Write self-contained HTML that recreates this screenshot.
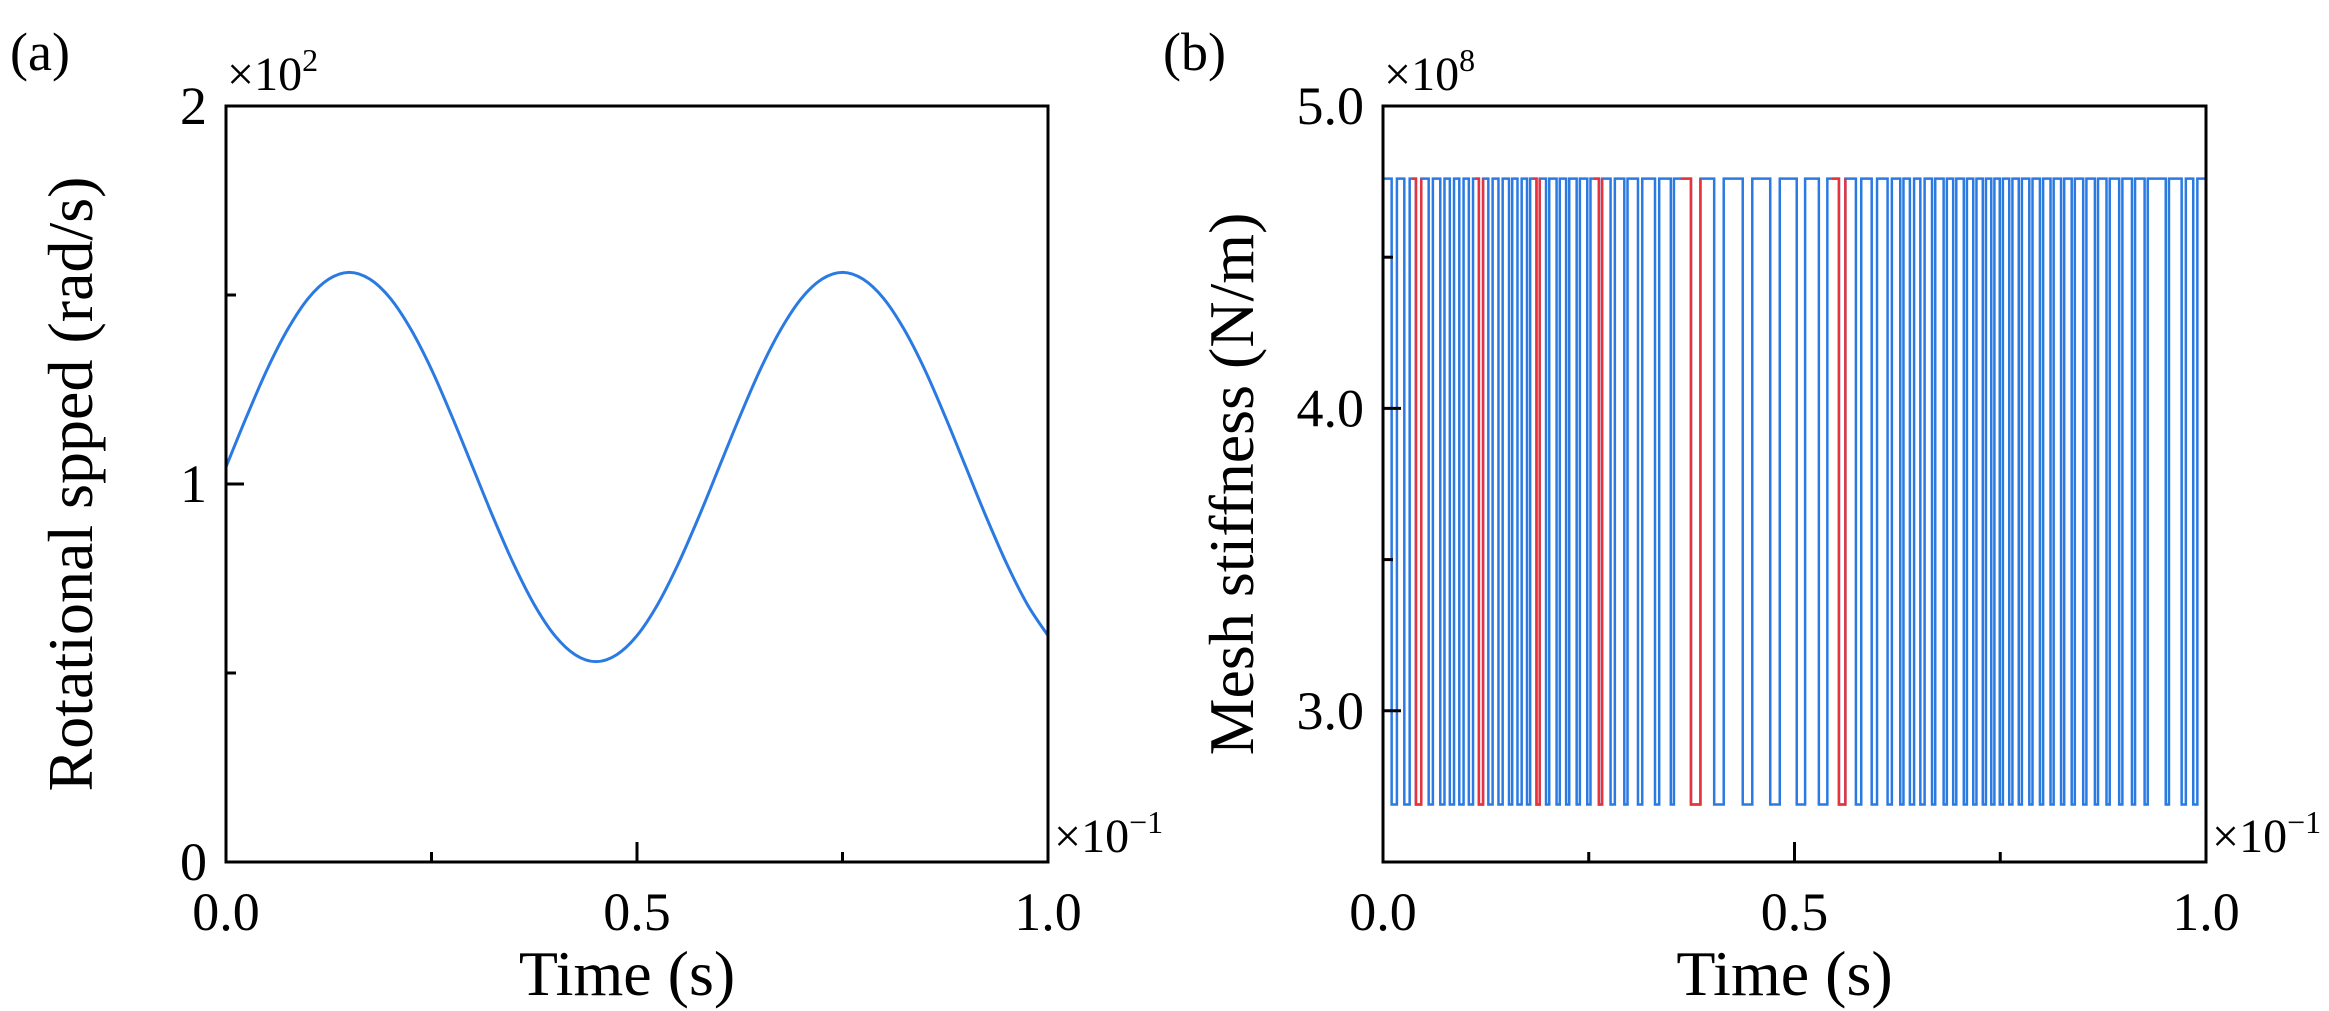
<!DOCTYPE html>
<html><head><meta charset="utf-8">
<style>
html,body{margin:0;padding:0;background:#fff;}
svg{display:block;font-family:"Liberation Serif","DejaVu Serif",serif;}
</style></head>
<body>
<svg id="fig" width="2329" height="1011" viewBox="0 0 2329 1011" xmlns="http://www.w3.org/2000/svg">
  <g id="panelA"></g>
  <g id="panelB"></g>
</svg>
<script>
// ---------- Panel (a) data: rotational speed (x10^2 rad/s) vs time (x10^-1 s)
const speedTimes = [0,0.025,0.05,0.075,0.1,0.125,0.15,0.175,0.2,0.225,0.25,0.275,0.3,0.325,0.35,0.375,0.4,0.425,0.45,0.475,0.5,0.525,0.55,0.575,0.6,0.625,0.65,0.675,0.7,0.725,0.75,0.775,0.8,0.825,0.85,0.875,0.9,0.925,0.95,0.975,1.0];
const speedValues = [1.045,1.178,1.303,1.409,1.491,1.542,1.560,1.542,1.491,1.409,1.303,1.178,1.045,0.912,0.788,0.681,0.599,0.548,0.530,0.548,0.599,0.681,0.788,0.912,1.045,1.178,1.303,1.409,1.491,1.542,1.560,1.542,1.491,1.409,1.303,1.178,1.045,0.912,0.788,0.681,0.599];
const aXTicks = [0,0.5,1.0];
const aXTickLabels = ["0.0","0.5","1.0"];
const aXMinor = [0.25,0.75];
const aYTicks = [0,1,2];
const aYTickLabels = ["0","1","2"];
const aYMinor = [0.5,1.5];

// ---------- Panel (b) data: mesh stiffness square wave (x10^8 N/m)
const stiffHigh = 4.76;
const stiffLow = 2.69;
const dipStart = [0.0105,0.0259,0.0400,0.0555,0.0696,0.0812,0.0927,0.1043,0.1165,0.1280,0.1403,0.1531,0.1634,0.1750,0.1865,0.1981,0.2109,0.2225,0.2353,0.2482,0.2623,0.2765,0.2932,0.3098,0.3305,0.3497,0.3742,0.4024,0.4371,0.4705,0.5027,0.5296,0.5540,0.5746,0.5938,0.6131,0.6285,0.6402,0.6529,0.6671,0.6812,0.6928,0.7057,0.7172,0.7288,0.7391,0.7494,0.7609,0.7725,0.7853,0.7982,0.8111,0.8239,0.8368,0.8508,0.8650,0.8791,0.8945,0.9100,0.9254,0.9511,0.9704,0.9845];
const dipEnd   = [0.0169,0.0324,0.0465,0.0606,0.0747,0.0863,0.0979,0.1094,0.1216,0.1332,0.1454,0.1570,0.1685,0.1788,0.1904,0.2020,0.2148,0.2263,0.2392,0.2521,0.2662,0.2817,0.2971,0.3150,0.3356,0.3535,0.3857,0.4140,0.4487,0.4821,0.5129,0.5399,0.5618,0.5811,0.6003,0.6183,0.6324,0.6453,0.6581,0.6710,0.6851,0.6966,0.7095,0.7211,0.7326,0.7429,0.7532,0.7648,0.7763,0.7892,0.8021,0.8149,0.8277,0.8406,0.8547,0.8688,0.8830,0.8984,0.9138,0.9292,0.9550,0.9755,0.9895];
const dipRed   = [0,0,1,0,0,0,0,0,1,0,0,0,0,0,1,0,0,0,0,0,1,0,0,0,0,0,1,0,0,0,0,0,1,0,0,0,0,0,0,0,0,0,0,0,0,0,0,0,0,0,0,0,0,0,0,0,0,0,0,0,0,0,0];
const bXTicks = [0,0.5,1.0];
const bXTickLabels = ["0.0","0.5","1.0"];
const bXMinor = [0.25,0.75];
const bYTicks = [3.0,4.0,5.0];
const bYTickLabels = ["3.0","4.0","5.0"];
const bYMinor = [3.5,4.5];

const NS = "http://www.w3.org/2000/svg";
function mk(tag, attrs, parent, text){
  const e = document.createElementNS(NS, tag);
  for (const k in attrs) e.setAttribute(k, attrs[k]);
  if (text !== undefined) e.textContent = text;
  parent.appendChild(e);
  return e;
}
const BLUE = "#2a7ae2", RED = "#e8333d";

function axesFrame(g, L, R, T, B, xs, ys, xT, xTL, xMi, yT, yTL, yMi, yLabel, yExp, panelLabel, plx){
  const fr = mk("rect", {x:L, y:T, width:R-L, height:B-T, fill:"none", stroke:"#000", "stroke-width":3}, g);
  
  
  xT.forEach((v,i)=>{
    const t = mk("line", {x1:xs(v), x2:xs(v), y1:B, y2:B-20, stroke:"#000", "stroke-width":3}, g);
    
    
    const lb = mk("text", {x:xs(v), y:B+68, "font-size":54, "text-anchor":"middle"}, g, xTL[i]);
    
    
  });
  xMi.forEach(v=>{
    const t = mk("line", {x1:xs(v), x2:xs(v), y1:B, y2:B-10, stroke:"#000", "stroke-width":3}, g);
    
    
  });
  yT.forEach((v,i)=>{
    const t = mk("line", {x1:L, x2:L+18, y1:ys(v), y2:ys(v), stroke:"#000", "stroke-width":3}, g);
    
    
    const lb = mk("text", {x:L-19, y:ys(v)+18, "font-size":54, "text-anchor":"end"}, g, yTL[i]);
    
    
  });
  yMi.forEach(v=>{
    const t = mk("line", {x1:L, x2:L+10, y1:ys(v), y2:ys(v), stroke:"#000", "stroke-width":3}, g);
    
    
  });
  const xt = mk("text", {x:(L+R)/2 - 10, y:995, "font-size":64, "text-anchor":"middle"}, g, "Time (s)");
  
  
  const cy = (T+B)/2;
  const yt = mk("text", {x:plx, y:cy, "font-size":64, "text-anchor":"middle", transform:`rotate(-90 ${plx} ${cy})`}, g, yLabel);
  
  
  const ye = mk("text", {x:L+1, y:90, "font-size":48}, g);
  
  
  mk("tspan", {}, ye, "×10");
  mk("tspan", {dy:-19, "font-size":32}, ye, yExp);
  const xe = mk("text", {x:R+6, y:852, "font-size":48}, g);
  
  
  mk("tspan", {}, xe, "×10");
  mk("tspan", {dy:-19, "font-size":32}, xe, "−1");
  const pl = mk("text", {x:panelLabel[1], y:70, "font-size":54}, g, panelLabel[0]);
  
  
}

// ---------- Panel (a)
(function(){
  const g = document.getElementById("panelA");
  const L=226, R=1048, T=106, B=862;
  const xs = v => L + (v-0)/(1-0)*(R-L);
  const ys = v => B - (v-0)/(2-0)*(B-T);
  const P = speedTimes.map((t,i)=>[xs(t), ys(speedValues[i])]);
  let d = `M${P[0][0]},${P[0][1]}`;
  for (let i=0;i<P.length-1;i++){
    const p0=P[Math.max(0,i-1)], p1=P[i], p2=P[i+1], p3=P[Math.min(P.length-1,i+2)];
    const c1=[p1[0]+(p2[0]-p0[0])/6, p1[1]+(p2[1]-p0[1])/6];
    const c2=[p2[0]-(p3[0]-p1[0])/6, p2[1]-(p3[1]-p1[1])/6];
    d += ` C${c1[0]},${c1[1]} ${c2[0]},${c2[1]} ${p2[0]},${p2[1]}`;
  }
  const line = mk("path", {d, fill:"none", stroke:BLUE, "stroke-width":3}, g);
  
  
  axesFrame(g, L, R, T, B, xs, ys, aXTicks, aXTickLabels, aXMinor, aYTicks, aYTickLabels, aYMinor,
    "Rotational spped (rad/s)", "2", ["(a)", 10], 92);
})();

// ---------- Panel (b)
(function(){
  const g = document.getElementById("panelB");
  const L=1383, R=2206, T=106, B=862;
  const xs = v => L + (v-0)/(1-0)*(R-L);
  const ys = v => B - (v-2.5)/(5.0-2.5)*(B-T);
  const yH = ys(stiffHigh), yL = ys(stiffLow);
  let d = `M${xs(0)},${yH}`;
  dipStart.forEach((s,i)=>{
    d += ` L${xs(s)},${yH} L${xs(s)},${yL} L${xs(dipEnd[i])},${yL} L${xs(dipEnd[i])},${yH}`;
  });
  d += ` L${xs(1)},${yH}`;
  const wave = mk("path", {d, fill:"none", stroke:BLUE, "stroke-width":2.5}, g);
  
  
  dipStart.forEach((s,i)=>{
    if (!dipRed[i]) return;
    const prevEnd = i>0 ? dipEnd[i-1] : 0;
    const hs = s - (s - prevEnd)*0.6;
    const rd = `M${xs(hs)},${yH} L${xs(s)},${yH} L${xs(s)},${yL} L${xs(dipEnd[i])},${yL} L${xs(dipEnd[i])},${yH}`;
    const r = mk("path", {d:rd, fill:"none", stroke:RED, "stroke-width":2.5}, g);
    
    
  });
  axesFrame(g, L, R, T, B, xs, ys, bXTicks, bXTickLabels, bXMinor, bYTicks, bYTickLabels, bYMinor,
    "Mesh stiffness (N/m)", "8", ["(b)", 1163], 1253);
})();
</script>
</body></html>
